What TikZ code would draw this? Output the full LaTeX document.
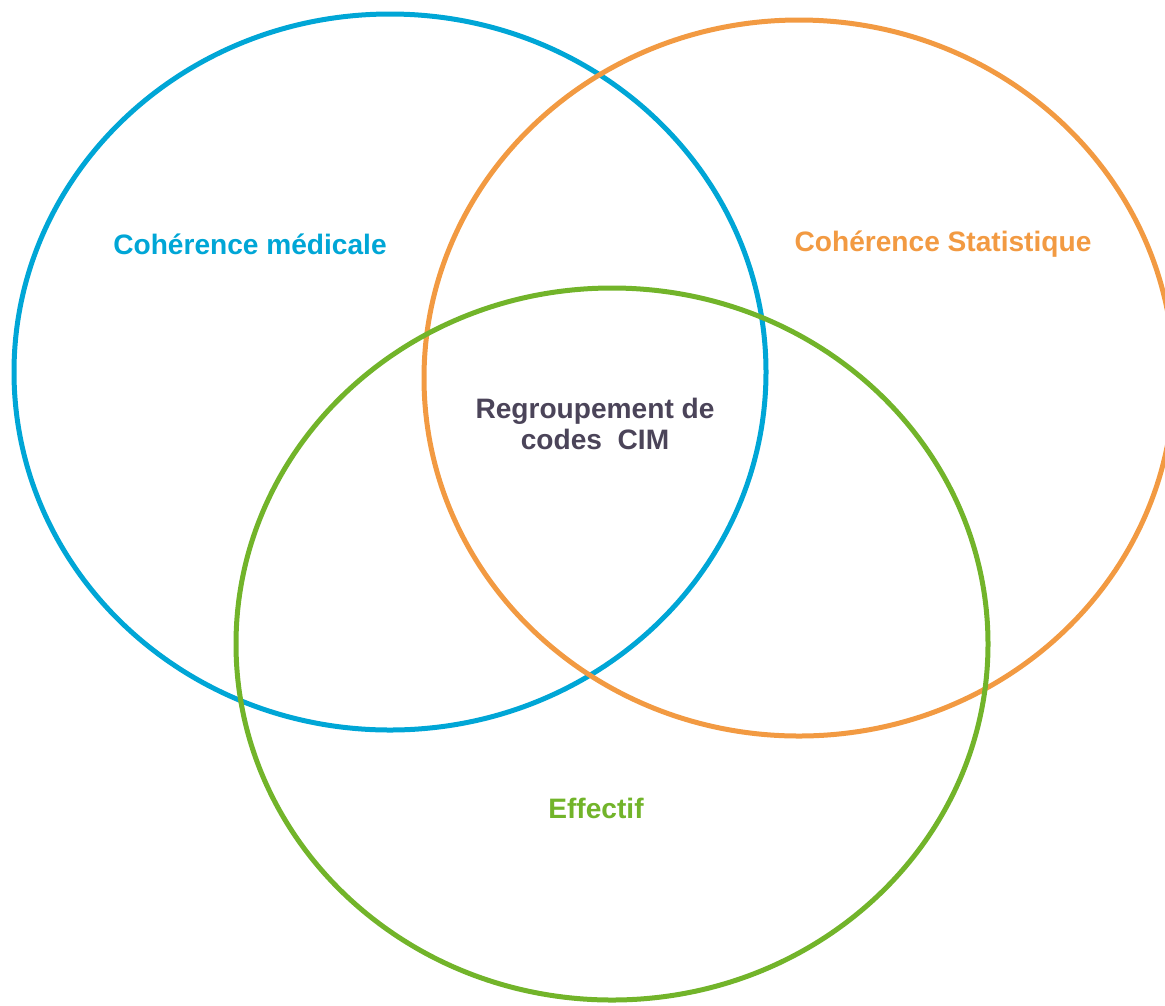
\documentclass[tikz,border=0pt]{standalone}
\usepackage{fontspec}
\setmainfont{Liberation Sans}

\definecolor{bleu}{HTML}{00A6D6}
\definecolor{orange}{HTML}{F29A42}
\definecolor{vert}{HTML}{72B42A}
\definecolor{gris}{HTML}{4B4459}

\begin{document}
\begin{tikzpicture}[x=0.02cm, y=-0.02cm]
		\tikzset{cercle/.style={line width=0.1cm}};
		\tikzset{lbl/.style={font=\bfseries\fontsize{16}{18}\selectfont, align=center}};

		\useasboundingbox (0, 0) rectangle (1165, 1005);
		\clip (0, 0) rectangle (1165, 1005);

		\draw[cercle, bleu] (390, 372) ellipse [x radius=376, y radius=358];
		\draw[cercle, orange] (799, 378) ellipse [x radius=375, y radius=358];
		\draw[cercle, vert] (612, 644) ellipse [x radius=376, y radius=356];

		\node[lbl, bleu] (medical) at (250, 244) {Cohérence médicale};
		\node[lbl, orange] (stat) at (943, 244) {Cohérence Statistique};
		\node[lbl, gris] (cim) at (595, 424) {Regroupement de\\codes\ \ CIM};
		\node[lbl, vert] (effectif) at (596, 808) {Effectif};

	\end{tikzpicture}
\end{document}
